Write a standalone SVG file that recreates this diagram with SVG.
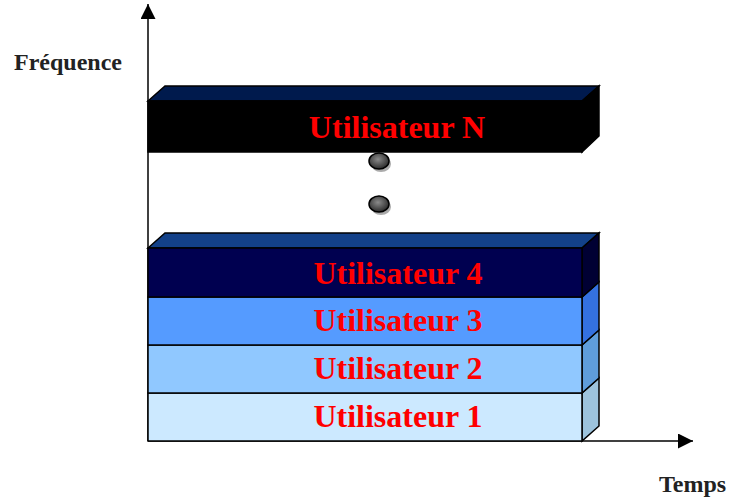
<svg xmlns="http://www.w3.org/2000/svg" width="730" height="499" viewBox="0 0 730 499">
<style>
.face{stroke:#000;stroke-width:1.5;stroke-linejoin:miter}
.lbl{font-family:"Liberation Serif",serif;font-weight:bold;font-size:32px;fill:#ff0000;text-anchor:middle}
.ax{font-family:"Liberation Serif",serif;font-weight:bold;font-size:24px;fill:#222}
</style>
<defs>
<marker id="arr" viewBox="0 0 10 10" refX="10" refY="5" markerWidth="15" markerHeight="15" markerUnits="userSpaceOnUse" orient="auto">
<path d="M0,0 L10,5 L0,10 Z" fill="#000"/>
</marker>
<radialGradient id="ball" cx="0.45" cy="0.4" r="0.6">
<stop offset="0" stop-color="#8a8a8a"/>
<stop offset="1" stop-color="#2a2a2a"/>
</radialGradient>
</defs>
<g id="connectors">
<line x1="148" y1="441" x2="148" y2="4" stroke="#000" stroke-width="1.5" marker-end="url(#arr)"/>
<line x1="148" y1="441" x2="693" y2="441" stroke="#000" stroke-width="1.5" marker-end="url(#arr)"/>
</g>
<g id="label-frequence"><text class="ax" x="14" y="70">Fréquence</text></g>
<g id="label-temps"><text class="ax" x="659" y="492">Temps</text></g>
<g id="node-userN">
<polygon class="face" points="148,101 165,86 599,86 582,101" fill="#001a4d"/>
<polygon class="face" points="582,101 599,86 599,136 582,152" fill="#000"/>
<rect class="face" x="148" y="101" width="434" height="51" fill="#000"/>
<text class="lbl" x="397" y="138">Utilisateur N</text>
</g>
<g id="dots">
<ellipse cx="381" cy="164" rx="10" ry="8" fill="#888" opacity="0.7"/>
<ellipse cx="379" cy="161" rx="10" ry="8" fill="url(#ball)" stroke="#000" stroke-width="1.5"/>
<ellipse cx="381" cy="207" rx="10" ry="8" fill="#888" opacity="0.7"/>
<ellipse cx="379" cy="204" rx="10" ry="8" fill="url(#ball)" stroke="#000" stroke-width="1.5"/>
</g>
<g id="node-user1">
<polygon class="face" points="582,393 599,378 599,426 582,441" fill="#9dc3dc"/>
<rect class="face" x="148" y="393" width="434" height="48" fill="#cce9ff"/>
<text class="lbl" x="398" y="427">Utilisateur 1</text>
</g>
<g id="node-user2">
<polygon class="face" points="582,345 599,330 599,378 582,393" fill="#5f9ddb"/>
<rect class="face" x="148" y="345" width="434" height="48" fill="#90c8ff"/>
<text class="lbl" x="398" y="379">Utilisateur 2</text>
</g>
<g id="node-user3">
<polygon class="face" points="582,297 599,282 599,330 582,345" fill="#3471e0"/>
<rect class="face" x="148" y="297" width="434" height="48" fill="#559bff"/>
<text class="lbl" x="398" y="331">Utilisateur 3</text>
</g>
<g id="node-user4">
<polygon class="face" points="148,248 165,233 599,233 582,248" fill="#134189"/>
<polygon class="face" points="582,248 599,233 599,282 582,297" fill="#000033"/>
<rect class="face" x="148" y="248" width="434" height="49" fill="#000050"/>
<text class="lbl" x="398" y="284">Utilisateur 4</text>
</g>
</svg>
